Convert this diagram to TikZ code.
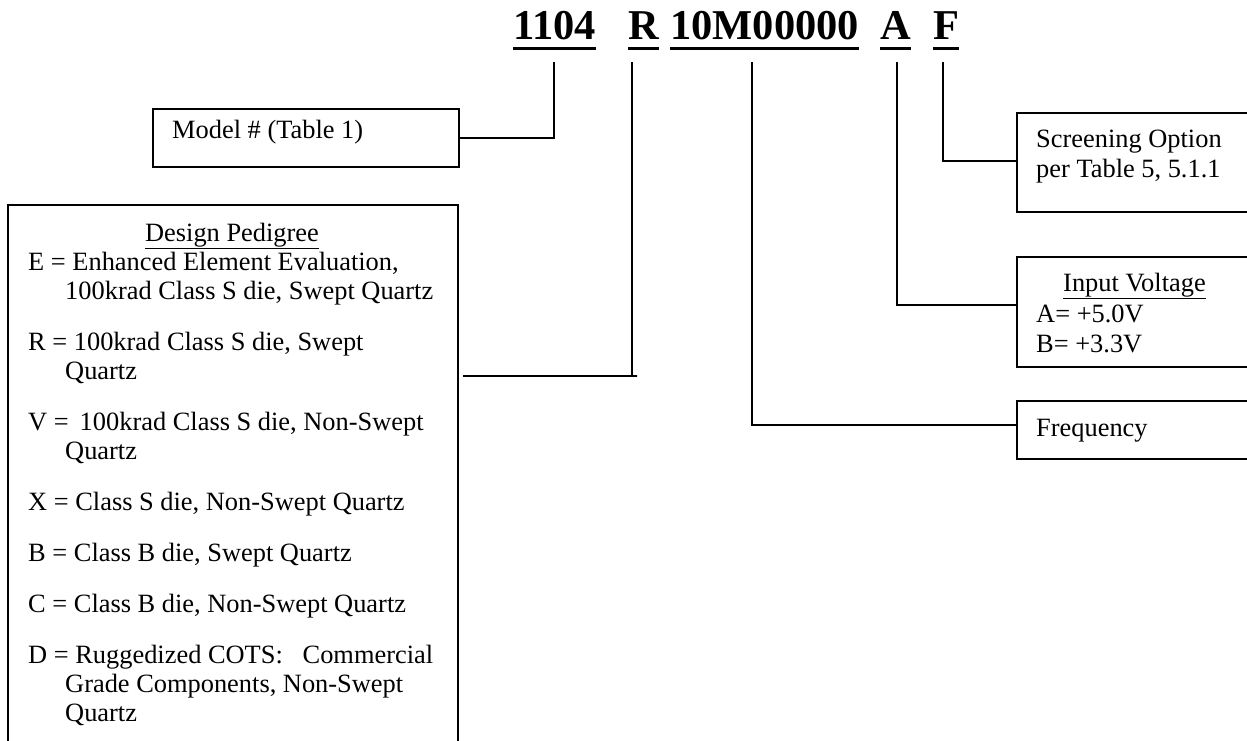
\documentclass[tikz,border=0pt]{standalone}
\usepackage{fontspec}
\setmainfont{Liberation Serif}
\begin{document}
\begin{tikzpicture}[x=1pt,y=-1pt,
  box/.style={draw, line width=1.6pt, inner sep=0pt, anchor=north west},
  wire/.style={line width=1.6pt},
  txt/.style={anchor=base west, inner sep=0pt, font=\fontsize{26.4}{29}\selectfont},
  hd/.style={anchor=base west, inner sep=0pt, font=\fontsize{42.5}{48}\selectfont\bfseries},
  uline/.style={line width=3pt}]
\path[use as bounding box] (0,0) rectangle (1247,740);
\clip (0,0) rectangle (1247,740);

% header code
\node[hd] (h1) at (513,39) {1104};
\node[hd] (h2) at (628,39) {R};
\node[hd] (h3) at (670,39) {10M00000};
\node[hd] (h4) at (880,39) {A};
\node[hd] (h5) at (933,39) {F};
\foreach \h in {h1,h2,h3,h4,h5}
  \draw[uline] ([yshift=-9.5pt]\h.base west) -- ([yshift=-9.5pt]\h.base east);

% boxes
\node[box, minimum width=306pt, minimum height=58pt] (model) at (152,108) {};
\node[box, minimum width=450pt, minimum height=600pt] (design) at (7,204) {};
\node[box, minimum width=300pt, minimum height=99pt] (screen) at (1016,112) {};
\node[box, minimum width=300pt, minimum height=110pt] (input) at (1016,256) {};
\node[box, minimum width=300pt, minimum height=58pt] (freq) at (1016,400) {};

% connector start points under the code
\coordinate (t1) at (554,62);
\coordinate (t2) at (632,62);
\coordinate (t3) at (752,62);
\coordinate (t4) at (897,62);
\coordinate (t5) at (943,62);
\coordinate (r1) at (637,376);
\coordinate (r2) at (463,376);

\draw[wire] (t1) |- (model.east);
\draw[wire] (t2) |- (r1) -- (r2);
\draw[wire] (t3) |- ([yshift=5pt]freq.west);
\draw[wire] (t4) |- ([yshift=7pt]input.west);
\draw[wire] (t5) |- ([yshift=1.5pt]screen.west);

% texts
\node[txt] (mt) at (172,138) {Model \# (Table 1)};

\node[txt] (s1) at (1036,147) {Screening Option};
\node[txt] (s2) at (1036,177) {per Table 5, 5.1.1};

\node[txt] (i0) at (1063,291) {\underline{Input Voltage}};
\node[txt] (i1) at (1036,322) {A= +5.0V};
\node[txt] (i2) at (1036,352) {B= +3.3V};

\node[txt] (f1) at (1036,436) {Frequency};

\node[txt, anchor=base] (d0) at (232,241) {\underline{Design Pedigree}};
\node[txt] (d1) at (28,270) {E = Enhanced Element Evaluation,};
\node[txt] (d2) at (65,299) {100krad Class S die, Swept Quartz};
\node[txt] (d3) at (28,350) {R = 100krad Class S die, Swept};
\node[txt] (d4) at (65,379) {Quartz};
\node[txt] (d5) at (28,430) {V = \,100krad Class S die, Non-Swept};
\node[txt] (d6) at (65,459) {Quartz};
\node[txt] (d7) at (28,510) {X = Class S die, Non-Swept Quartz};
\node[txt] (d8) at (28,561) {B = Class B die, Swept Quartz};
\node[txt] (d9) at (28,612) {C = Class B die, Non-Swept Quartz};
\node[txt] (d10) at (28,663) {D = Ruggedized COTS:\ \ \ Commercial};
\node[txt] (d11) at (65,692) {Grade Components, Non-Swept};
\node[txt] (d12) at (65,721) {Quartz};
\end{tikzpicture}
\end{document}
